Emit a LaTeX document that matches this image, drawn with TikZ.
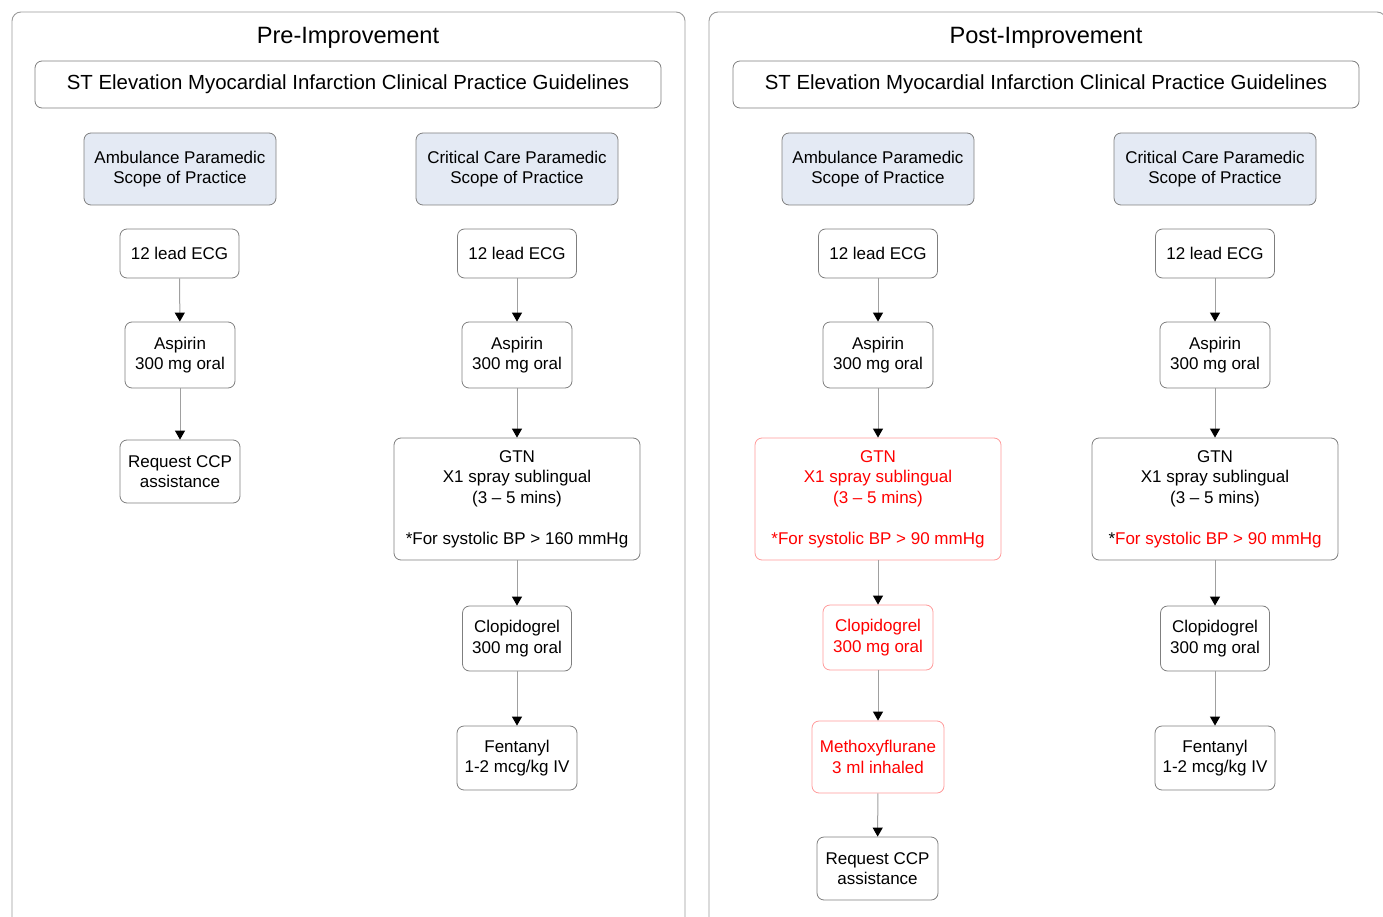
\documentclass[tikz,border=0pt]{standalone}
\usepackage{fontspec}
\setmainfont{Liberation Sans}
\usetikzlibrary{arrows.meta}
\definecolor{boxgray}{HTML}{7F7F7F}
\definecolor{panelgray}{HTML}{9A9A9A}
\definecolor{linegray}{HTML}{A0A0A0}
\definecolor{scopefill}{HTML}{E4EAF4}
\definecolor{redtext}{HTML}{FF0000}
\definecolor{redborder}{HTML}{FF9A9A}
\tikzset{
  x=1pt, y=-1pt,
  panel/.style={draw=panelgray, line width=0.9pt, rounded corners=9pt},
  titletext/.style={font=\fontsize{23.6}{27}\selectfont, inner sep=0pt},
  basebox/.style={rounded corners=7pt, align=center, inner sep=0pt, line width=0.8pt,
     font=\fontsize{17}{20.5}\selectfont},
  box/.style={basebox, draw=boxgray, fill=white},
  scopebox/.style={basebox, draw=boxgray, fill=scopefill},
  redbox/.style={basebox, draw=redborder, fill=white, text=redtext},
  guidebox/.style={basebox, draw=boxgray, fill=white, font=\fontsize{20.4}{24}\selectfont},
  arr/.style={draw=linegray, line width=1pt, -{Triangle[length=9pt,width=10pt,color=black]}},
}
\begin{document}
\begin{tikzpicture}
\useasboundingbox (0,0) rectangle (1383,917);
\begin{scope}
\clip (0,0) rectangle (1383,917);
% panels
\draw[panel] (12,940) -- (12,12) -- (685,12) -- (685,940);
\draw[panel] (709,940) -- (709,12) -- (1386,12) -- (1386,940);
\end{scope}

% titles
\node[titletext] (t1) at (348,37.5) {Pre-Improvement};
\node[titletext] (t2) at (1046,37.5) {Post-Improvement};

% guideline boxes
\node[guidebox, minimum width=626, minimum height=47] (g1) at (348,84.5) {\raisebox{-1pt}{ST Elevation Myocardial Infarction Clinical Practice Guidelines}};
\node[guidebox, minimum width=626, minimum height=47] (g2) at (1046,84.5) {\raisebox{-1pt}{ST Elevation Myocardial Infarction Clinical Practice Guidelines}};

% ---------- Pre: Ambulance ----------
\node[scopebox, minimum width=192, minimum height=72] (sA1) at (180,169) {Ambulance Paramedic\\Scope of Practice};
\node[box, minimum width=119, minimum height=49] (eA1) at (179.5,253.5) {12 lead ECG};
\node[box, minimum width=110, minimum height=66] (aA1) at (180,355) {Aspirin\\300 mg oral};
\node[box, minimum width=120, minimum height=63] (rA1) at (180,471.5) {Request CCP\\assistance};
\draw[arr] (eA1) -- (aA1);
\draw[arr] (aA1) -- (rA1);

% ---------- Pre: Critical Care ----------
\node[scopebox, minimum width=202, minimum height=72] (sC1) at (517,169) {Critical Care Paramedic\\Scope of Practice};
\node[box, minimum width=119, minimum height=49] (eC1) at (517,253.5) {12 lead ECG};
\node[box, minimum width=110, minimum height=66] (aC1) at (517,355) {Aspirin\\300 mg oral};
\node[box, minimum width=246, minimum height=122] (gC1) at (517,499) {GTN\\X1 spray sublingual\\(3 – 5 mins)\\[20.5pt]*For systolic BP > 160 mmHg};
\node[box, minimum width=109, minimum height=65] (cC1) at (517,638.5) {Clopidogrel\\300 mg oral};
\node[box, minimum width=120, minimum height=64] (fC1) at (517,758) {Fentanyl\\1-2 mcg/kg IV};
\draw[arr] (eC1) -- (aC1);
\draw[arr] (aC1) -- (gC1);
\draw[arr] (gC1) -- (cC1);
\draw[arr] (cC1) -- (fC1);

% ---------- Post: Ambulance ----------
\node[scopebox, minimum width=192, minimum height=72] (sA2) at (878,169) {Ambulance Paramedic\\Scope of Practice};
\node[box, minimum width=119, minimum height=49] (eA2) at (878,253.5) {12 lead ECG};
\node[box, minimum width=110, minimum height=66] (aA2) at (878,355) {Aspirin\\300 mg oral};
\node[redbox, minimum width=246, minimum height=122] (gA2) at (878,499) {GTN\\X1 spray sublingual\\(3 – 5 mins)\\[20.5pt]*For systolic BP > 90 mmHg};
\node[redbox, minimum width=110, minimum height=65] (cA2) at (878,637.5) {Clopidogrel\\300 mg oral};
\node[redbox, minimum width=132, minimum height=72] (mA2) at (878,757) {Methoxyflurane\\3 ml inhaled};
\node[box, minimum width=121, minimum height=63] (rA2) at (877.5,868.5) {Request CCP\\assistance};
\draw[arr] (eA2) -- (aA2);
\draw[arr] (aA2) -- (gA2);
\draw[arr] (gA2) -- (cA2);
\draw[arr] (cA2) -- (mA2);
\draw[arr] (mA2) -- (rA2);

% ---------- Post: Critical Care ----------
\node[scopebox, minimum width=202, minimum height=72] (sC2) at (1215,169) {Critical Care Paramedic\\Scope of Practice};
\node[box, minimum width=119, minimum height=49] (eC2) at (1215,253.5) {12 lead ECG};
\node[box, minimum width=110, minimum height=66] (aC2) at (1215,355) {Aspirin\\300 mg oral};
\node[box, minimum width=246, minimum height=122] (gC2) at (1215,499) {GTN\\X1 spray sublingual\\(3 – 5 mins)\\[20.5pt]*\textcolor{redtext}{For systolic BP > 90 mmHg}};
\node[box, minimum width=109, minimum height=65] (cC2) at (1215,638.5) {Clopidogrel\\300 mg oral};
\node[box, minimum width=120, minimum height=64] (fC2) at (1215,758) {Fentanyl\\1-2 mcg/kg IV};
\draw[arr] (eC2) -- (aC2);
\draw[arr] (aC2) -- (gC2);
\draw[arr] (gC2) -- (cC2);
\draw[arr] (cC2) -- (fC2);
\end{tikzpicture}
\end{document}
